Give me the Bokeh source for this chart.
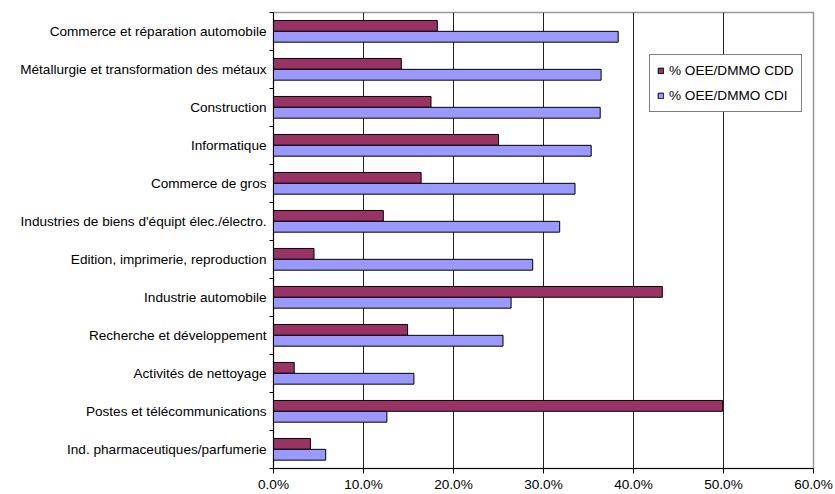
from bokeh.plotting import figure
from bokeh.models import (ColumnDataSource, FixedTicker, PrintfTickFormatter,
                          Range1d, Legend, LegendItem, LinearAxis)
from bokeh.embed import file_html
from bokeh.resources import INLINE

# Categories listed top to bottom as in the chart
categories = [
    "Commerce et réparation automobile",
    "Métallurgie et transformation des métaux",
    "Construction",
    "Informatique",
    "Commerce de gros",
    "Industries de biens d'équipt élec./électro.",
    "Edition, imprimerie, reproduction",
    "Industrie automobile",
    "Recherche et développement",
    "Activités de nettoyage",
    "Postes et télécommunications",
    "Ind. pharmaceutiques/parfumerie",
]
cdd_values = [18.2, 14.2, 17.5, 25.0, 16.4, 12.2, 4.5, 43.2, 14.9, 2.3, 49.9, 4.1]
cdi_values = [38.3, 36.4, 36.3, 35.3, 33.5, 31.8, 28.8, 26.4, 25.5, 15.6, 12.6, 5.8]
series_names = ["% OEE/DMMO CDD", "% OEE/DMMO CDI"]
x_ticks = [0, 10, 20, 30, 40, 50, 60]

FONT = "Liberation Sans"
FS = "13.6px"

n = len(categories)
# category index: top category gets highest position
pos = [n - 1 - i + 0.5 for i in range(n)]
BAR_H = 0.285

src_cdd = ColumnDataSource(dict(y=[p + 0.148 for p in pos], v=cdd_values, cat=categories))
src_cdi = ColumnDataSource(dict(y=[p - 0.138 for p in pos], v=cdi_values, cat=categories))

p = figure(width=835, height=494, output_backend="svg", toolbar_location=None,
           x_range=Range1d(0, 60), y_range=Range1d(0, n),
           min_border_left=273, min_border_right=22, min_border_top=12,
           min_border_bottom=25, background_fill_color="white",
           border_fill_color="white")

r_cdd = p.hbar(y="y", right="v", left=0, height=BAR_H, source=src_cdd,
               fill_color="#993366", line_color="black", line_width=1)
r_cdi = p.hbar(y="y", right="v", left=0, height=BAR_H, source=src_cdi,
               fill_color="#9999FF", line_color="black", line_width=1)

# x axis
xa = p.xaxis[0]
xa.ticker = FixedTicker(ticks=x_ticks, minor_ticks=[])
xa.formatter = PrintfTickFormatter(format="%.1f%%")
xa.major_tick_in = 0
xa.major_tick_out = 5
xa.minor_tick_out = 0
xa.minor_tick_in = 0
xa.axis_line_color = "black"
xa.major_tick_line_color = "black"
xa.major_label_text_font = FONT
xa.major_label_text_font_size = FS
xa.major_label_text_color = "black"
xa.major_label_standoff = 3

# inner y axis: tick marks at category boundaries, no labels
ya = p.yaxis[0]
bounds = list(range(n + 1))
ya.ticker = FixedTicker(ticks=bounds, minor_ticks=[])
ya.major_label_overrides = {b: "" for b in bounds}
ya.major_label_standoff = 0
ya.major_tick_in = 0
ya.major_tick_out = 4
ya.minor_tick_in = 0
ya.minor_tick_out = 0
ya.major_tick_line_color = "black"
ya.axis_line_color = "black"
ya.major_label_text_font_size = "1px"

# outer y axis: category labels at band centers
yb = LinearAxis(ticker=FixedTicker(ticks=pos, minor_ticks=[]))
yb.major_label_overrides = {pv: c for pv, c in zip(pos, categories)}
yb.axis_line_color = None
yb.major_tick_line_color = None
yb.minor_tick_line_color = None
yb.major_tick_in = 0
yb.major_tick_out = 0
yb.minor_tick_in = 0
yb.minor_tick_out = 0
yb.major_label_text_font = FONT
yb.major_label_text_font_size = FS
yb.major_label_text_color = "black"
yb.major_label_standoff = 3
p.add_layout(yb, "left")

p.xgrid.ticker = FixedTicker(ticks=x_ticks[1:-1])
p.xgrid.grid_line_color = "#222222"
p.xgrid.grid_line_width = 1
p.ygrid.grid_line_color = None

p.outline_line_color = "#999999"
p.outline_line_width = 1.5

legend = Legend(items=[LegendItem(label=series_names[0], renderers=[r_cdd]),
                       LegendItem(label=series_names[1], renderers=[r_cdi])],
                location=(376, 356), orientation="vertical")
legend.margin = 0
legend.padding = 7
legend.spacing = 8
legend.glyph_width = 7
legend.glyph_height = 7
legend.label_height = 17
legend.label_standoff = 5
legend.label_text_font = FONT
legend.label_text_font_size = FS
legend.label_text_color = "black"
legend.border_line_color = "black"
legend.border_line_width = 1
legend.background_fill_color = "white"
legend.background_fill_alpha = 1
p.add_layout(legend, "center")

open("out.html", "w").write(file_html(p, INLINE))
